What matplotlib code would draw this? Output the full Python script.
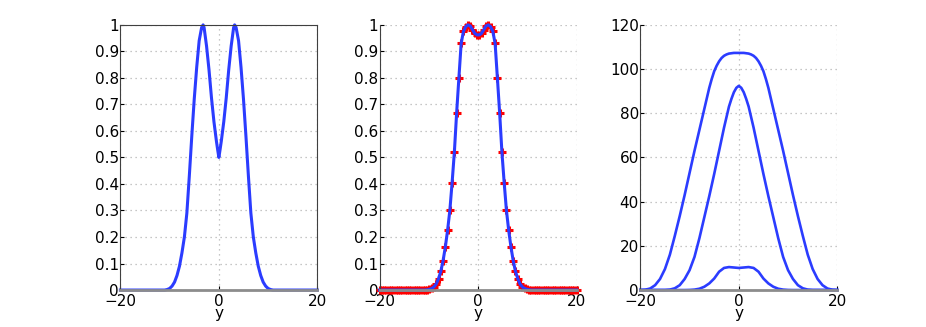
import numpy as np
import matplotlib
matplotlib.use("Agg")
import matplotlib.pyplot as plt

plt.rcParams['font.family'] = ['DejaVu Sans']

# --- data (half profiles, curves are symmetric about y = 0) ---
# panel 1
x1_half = [0, 0.25, 0.5, 1, 1.5, 2, 2.5, 3, 3.2, 3.5, 4, 4.5, 5, 5.5, 6, 6.5,
           7, 7.5, 8, 8.5, 9, 9.5, 10, 10.5, 11, 20]
v1_half = [0.5, 0.53, 0.562, 0.635, 0.725, 0.83, 0.92, 0.99, 1.0, 0.99, 0.94,
           0.84, 0.72, 0.58, 0.43, 0.29, 0.2, 0.14, 0.09, 0.055, 0.03, 0.015,
           0.006, 0.002, 0.0, 0.0]

# panel 2 (sample points, 88 on [-20, 20])
v2_half = [0.962, 0.968, 0.982, 0.996, 1.0, 0.993, 0.975, 0.93, 0.80, 0.668,
           0.52, 0.405, 0.30, 0.225, 0.162, 0.11, 0.07, 0.043, 0.023, 0.012,
           0.006, 0.003, 0.001] + [0.0] * 21

# panel 3
x3a_half = [0, 1, 2, 2.5, 3, 3.5, 4, 4.5, 5, 5.5, 6, 7, 8, 9, 10, 11, 12, 13,
            14, 15, 16, 17, 18, 19, 20]
v3a_half = [107.3, 107.3, 107.0, 106.6, 106.0, 105.0, 103.5, 101.5, 99.0, 95.5,
            91.5, 82.0, 72.5, 63.0, 53.0, 43.0, 33.5, 24.5, 16.0, 9.5, 5.0, 2.2,
            0.7, 0.15, 0.0]
x3b_half = [0, 0.5, 1, 1.5, 2, 3, 4, 5, 6, 7, 8, 9, 10, 11, 12, 13, 14, 15, 20]
v3b_half = [92.4, 91.5, 89.5, 86.5, 83.0, 73.5, 63.0, 52.5, 42.5, 33.0, 23.5,
            15.0, 9.0, 5.0, 2.2, 0.8, 0.2, 0.03, 0.0]
x3c_half = [0, 1, 2, 3, 4, 5, 6, 7, 8, 9, 10, 11, 20]
v3c_half = [10.0, 10.2, 10.4, 10.0, 8.3, 5.2, 3.0, 1.5, 0.6, 0.2, 0.05, 0.0, 0.0]


def mirror(xh, vh):
    xh = np.asarray(xh, float)
    vh = np.asarray(vh, float)
    return (np.concatenate([-xh[:0:-1], xh]),
            np.concatenate([vh[:0:-1], vh]))


blue = '#2b3cff'

fig = plt.figure(figsize=(9.26, 3.27), dpi=100)
pos = [0.130, 0.410, 0.6915]
axes = [fig.add_axes([p, 0.113, 0.2127, 0.811]) for p in pos]


def style(ax, ymax, yticks, box):
    ax.set_xlim(-20, 20)
    ax.set_ylim(0, ymax)
    ax.set_xticks([-20, 0, 20])
    ax.set_xticklabels(['\u221220', '0', '20'])
    ax.set_yticks(yticks)
    ax.set_yticklabels(['%g' % t for t in yticks])
    ax.grid(True, color='#b4b4b4', linestyle=(0, (1, 3)), linewidth=0.9)
    ax.tick_params(direction='in', length=3, labelsize=11, pad=1)
    ax.tick_params(axis='x', pad=3)
    ax.spines['bottom'].set_color('#8c8c8c')
    ax.spines['bottom'].set_linewidth(2)
    ax.spines['left'].set_color('#404040')
    for s in ('top', 'right'):
        ax.spines[s].set_visible(box)
        ax.spines[s].set_color('#404040')
    ax.set_xlabel('y', fontsize=11, labelpad=-2)
    ax.set_axisbelow(True)


# panel 1
x, v = mirror(x1_half, v1_half)
axes[0].plot(x, v, color=blue, lw=2.2, clip_on=False)
style(axes[0], 1, np.round(np.arange(0, 1.01, 0.1), 1), True)

# panel 2
xs = np.linspace(-20, 20, 88)
v2 = np.concatenate([v2_half[::-1], v2_half])
axes[1].plot(xs, v2, '+', color='red', ms=6, mew=2.2, clip_on=False)
axes[1].plot(xs, v2, color=blue, lw=2.2, clip_on=False)
style(axes[1], 1, np.round(np.arange(0, 1.01, 0.1), 1), False)

# panel 3
for xh, vh in [(x3a_half, v3a_half), (x3b_half, v3b_half), (x3c_half, v3c_half)]:
    x, v = mirror(xh, vh)
    axes[2].plot(x, v, color=blue, lw=1.9, clip_on=False)
style(axes[2], 120, np.arange(0, 121, 20), False)

fig.savefig('out.png', dpi=100)
